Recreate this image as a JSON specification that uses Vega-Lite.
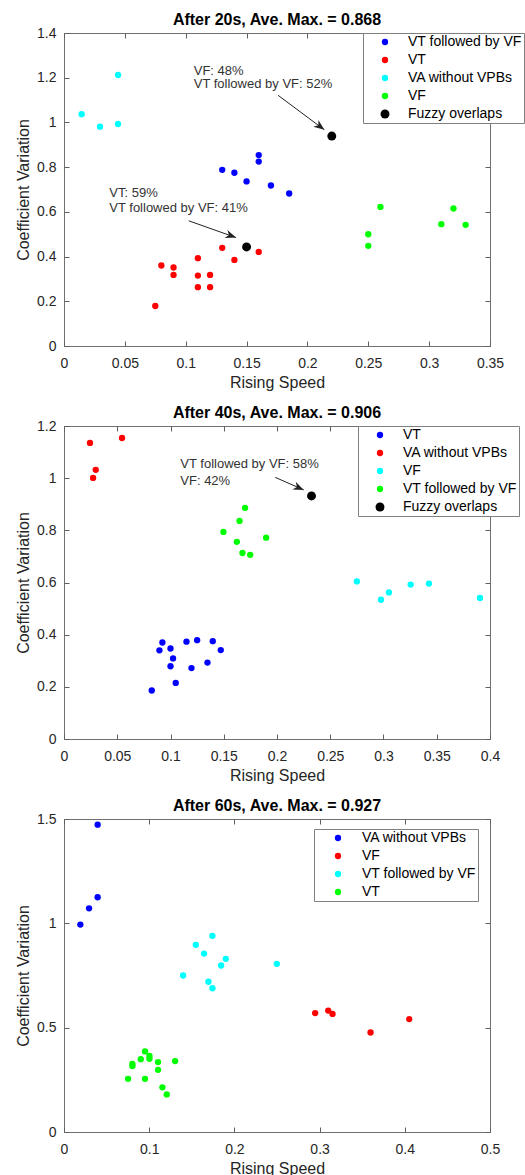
{
  "$schema": "https://vega.github.io/schema/vega-lite/v6.json",
  "padding": {"left": 15, "top": 11, "right": 0, "bottom": 0},
  "spacing": 13,
  "background": "white",
  "datasets": {
    "p1pts": [
      {"x": 0.0145, "y": 1.037, "class": "VA without VPBs"},
      {"x": 0.0296, "y": 0.981, "class": "VA without VPBs"},
      {"x": 0.0444, "y": 0.993, "class": "VA without VPBs"},
      {"x": 0.0444, "y": 1.212, "class": "VA without VPBs"},
      {"x": 0.13, "y": 0.788, "class": "VT followed by VF"},
      {"x": 0.14, "y": 0.775, "class": "VT followed by VF"},
      {"x": 0.15, "y": 0.736, "class": "VT followed by VF"},
      {"x": 0.16, "y": 0.854, "class": "VT followed by VF"},
      {"x": 0.16, "y": 0.825, "class": "VT followed by VF"},
      {"x": 0.17, "y": 0.718, "class": "VT followed by VF"},
      {"x": 0.185, "y": 0.682, "class": "VT followed by VF"},
      {"x": 0.075, "y": 0.179, "class": "VT"},
      {"x": 0.08, "y": 0.36, "class": "VT"},
      {"x": 0.09, "y": 0.351, "class": "VT"},
      {"x": 0.09, "y": 0.318, "class": "VT"},
      {"x": 0.11, "y": 0.393, "class": "VT"},
      {"x": 0.11, "y": 0.315, "class": "VT"},
      {"x": 0.11, "y": 0.263, "class": "VT"},
      {"x": 0.12, "y": 0.318, "class": "VT"},
      {"x": 0.12, "y": 0.263, "class": "VT"},
      {"x": 0.13, "y": 0.439, "class": "VT"},
      {"x": 0.14, "y": 0.385, "class": "VT"},
      {"x": 0.16, "y": 0.421, "class": "VT"},
      {"x": 0.25, "y": 0.5, "class": "VF"},
      {"x": 0.25, "y": 0.448, "class": "VF"},
      {"x": 0.26, "y": 0.622, "class": "VF"},
      {"x": 0.31, "y": 0.545, "class": "VF"},
      {"x": 0.32, "y": 0.615, "class": "VF"},
      {"x": 0.33, "y": 0.542, "class": "VF"},
      {"x": 0.22, "y": 0.939, "class": "Fuzzy overlaps"},
      {"x": 0.15, "y": 0.443, "class": "Fuzzy overlaps"}
    ],
    "p1ann": [
      {"x": 0.1066, "y": 1.232, "text": "VF: 48%"},
      {"x": 0.1066, "y": 1.172, "text": "VT followed by VF: 52%"},
      {"x": 0.0372, "y": 0.683, "text": "VT: 59%"},
      {"x": 0.0372, "y": 0.616, "text": "VT followed by VF: 41%"}
    ],
    "p1arr": [
      {"id": "a", "x": 0.176, "y": 1.121, "x2": 0.2139, "y2": 0.967},
      {"id": "b", "x": 0.1025, "y": 0.56, "x2": 0.1413, "y2": 0.485}
    ],
    "p2pts": [
      {"x": 0.0244, "y": 1.135, "class": "VA without VPBs"},
      {"x": 0.0545, "y": 1.154, "class": "VA without VPBs"},
      {"x": 0.0298, "y": 1.032, "class": "VA without VPBs"},
      {"x": 0.0273, "y": 1.001, "class": "VA without VPBs"},
      {"x": 0.1497, "y": 0.794, "class": "VT followed by VF"},
      {"x": 0.17, "y": 0.886, "class": "VT followed by VF"},
      {"x": 0.1648, "y": 0.836, "class": "VT followed by VF"},
      {"x": 0.1623, "y": 0.756, "class": "VT followed by VF"},
      {"x": 0.1676, "y": 0.713, "class": "VT followed by VF"},
      {"x": 0.1748, "y": 0.706, "class": "VT followed by VF"},
      {"x": 0.1898, "y": 0.772, "class": "VT followed by VF"},
      {"x": 0.275, "y": 0.604, "class": "VF"},
      {"x": 0.2976, "y": 0.534, "class": "VF"},
      {"x": 0.3051, "y": 0.562, "class": "VF"},
      {"x": 0.3255, "y": 0.592, "class": "VF"},
      {"x": 0.3427, "y": 0.596, "class": "VF"},
      {"x": 0.3906, "y": 0.541, "class": "VF"},
      {"x": 0.0824, "y": 0.186, "class": "VT"},
      {"x": 0.0896, "y": 0.34, "class": "VT"},
      {"x": 0.0924, "y": 0.37, "class": "VT"},
      {"x": 0.1, "y": 0.347, "class": "VT"},
      {"x": 0.1024, "y": 0.309, "class": "VT"},
      {"x": 0.1, "y": 0.279, "class": "VT"},
      {"x": 0.1049, "y": 0.215, "class": "VT"},
      {"x": 0.115, "y": 0.373, "class": "VT"},
      {"x": 0.1197, "y": 0.272, "class": "VT"},
      {"x": 0.125, "y": 0.379, "class": "VT"},
      {"x": 0.1347, "y": 0.293, "class": "VT"},
      {"x": 0.1397, "y": 0.375, "class": "VT"},
      {"x": 0.1472, "y": 0.341, "class": "VT"},
      {"x": 0.2324, "y": 0.932, "class": "Fuzzy overlaps"}
    ],
    "p2ann": [
      {"x": 0.1092, "y": 1.053, "text": "VT followed by VF: 58%"},
      {"x": 0.1092, "y": 0.989, "text": "VF: 42%"}
    ],
    "p2arr": [
      {"id": "a", "x": 0.1984, "y": 1.003, "x2": 0.2251, "y2": 0.955}
    ],
    "p3pts": [
      {"x": 0.0395, "y": 1.473, "class": "VA without VPBs"},
      {"x": 0.0395, "y": 1.125, "class": "VA without VPBs"},
      {"x": 0.0294, "y": 1.072, "class": "VA without VPBs"},
      {"x": 0.0192, "y": 0.994, "class": "VA without VPBs"},
      {"x": 0.1742, "y": 0.94, "class": "VT followed by VF"},
      {"x": 0.1547, "y": 0.897, "class": "VT followed by VF"},
      {"x": 0.1644, "y": 0.855, "class": "VT followed by VF"},
      {"x": 0.1899, "y": 0.83, "class": "VT followed by VF"},
      {"x": 0.1844, "y": 0.798, "class": "VT followed by VF"},
      {"x": 0.1398, "y": 0.75, "class": "VT followed by VF"},
      {"x": 0.1695, "y": 0.72, "class": "VT followed by VF"},
      {"x": 0.1742, "y": 0.689, "class": "VT followed by VF"},
      {"x": 0.2498, "y": 0.806, "class": "VT followed by VF"},
      {"x": 0.2948, "y": 0.57, "class": "VF"},
      {"x": 0.3101, "y": 0.582, "class": "VF"},
      {"x": 0.3152, "y": 0.566, "class": "VF"},
      {"x": 0.3598, "y": 0.477, "class": "VF"},
      {"x": 0.4052, "y": 0.541, "class": "VF"},
      {"x": 0.0951, "y": 0.386, "class": "VT"},
      {"x": 0.1003, "y": 0.365, "class": "VT"},
      {"x": 0.1003, "y": 0.351, "class": "VT"},
      {"x": 0.0901, "y": 0.349, "class": "VT"},
      {"x": 0.0803, "y": 0.326, "class": "VT"},
      {"x": 0.0803, "y": 0.316, "class": "VT"},
      {"x": 0.1104, "y": 0.335, "class": "VT"},
      {"x": 0.1104, "y": 0.298, "class": "VT"},
      {"x": 0.1304, "y": 0.34, "class": "VT"},
      {"x": 0.0752, "y": 0.255, "class": "VT"},
      {"x": 0.0951, "y": 0.255, "class": "VT"},
      {"x": 0.1155, "y": 0.214, "class": "VT"},
      {"x": 0.1206, "y": 0.18, "class": "VT"}
    ]
  },
  "vconcat": [
    {
      "width": 426,
      "height": 313,
      "title": {"text": "After 20s, Ave. Max. = 0.868"},
      "resolve": {"axis": {"x": "independent", "y": "independent"}},
      "layer": [
        {
          "data": {"name": "p1pts"},
          "mark": {"type": "circle", "opacity": 1},
          "encoding": {
            "x": {"field": "x", "type": "quantitative", "scale": {"domain": [0, 0.35], "nice": false, "zero": false},
              "axis": {"values": [0, 0.05, 0.1, 0.15, 0.2, 0.25, 0.3, 0.35], "title": "Rising Speed"}},
            "y": {"field": "y", "type": "quantitative", "scale": {"domain": [0, 1.4], "nice": false, "zero": false},
              "axis": {"values": [0, 0.2, 0.4, 0.6, 0.8, 1, 1.2, 1.4], "title": "Coefficient Variation"}},
            "color": {"field": "class", "type": "nominal",
              "scale": {"domain": ["VT followed by VF", "VT", "VA without VPBs", "VF", "Fuzzy overlaps"], "range": ["#0000ff", "#ff0000", "#00ffff", "#00ff00", "#000000"]},
              "legend": {"title": null, "orient": "none", "legendX": 299, "legendY": 0, "symbolOffset": 13, "labelOffset": 16}},
            "size": {"field": "class", "type": "nominal",
              "scale": {"type": "ordinal", "domain": ["VT followed by VF", "VT", "VA without VPBs", "VF", "Fuzzy overlaps"], "range": [40, 40, 40, 40, 80]},
              "legend": {"title": null, "orient": "none", "legendX": 299, "legendY": 0, "symbolOffset": 13, "labelOffset": 16}}
          }
        },
        {
          "data": {"name": "p1ann"},
          "mark": {"type": "text", "align": "left", "baseline": "middle", "fontSize": 13, "color": "#333333"},
          "encoding": {
            "x": {"field": "x", "type": "quantitative", "scale": {"domain": [0, 0.35], "nice": false, "zero": false},
              "axis": {"orient": "top", "values": [0, 0.05, 0.1, 0.15, 0.2, 0.25, 0.3, 0.35], "title": null}},
            "y": {"field": "y", "type": "quantitative", "scale": {"domain": [0, 1.4], "nice": false, "zero": false},
              "axis": {"orient": "right", "values": [0, 0.2, 0.4, 0.6, 0.8, 1, 1.2, 1.4], "title": null}},
            "text": {"field": "text"}
          }
        },
        {
          "data": {"name": "p1arr"},
          "mark": {"type": "rule", "color": "#222222", "strokeWidth": 1},
          "encoding": {
            "x": {"field": "x", "type": "quantitative", "axis": null},
            "y": {"field": "y", "type": "quantitative", "axis": null},
            "x2": {"field": "x2"},
            "y2": {"field": "y2"}
          }
        },
        {
          "data": {"name": "p1arr"},
          "mark": {"type": "point", "shape": "M0,0L-1,-0.4L-0.7,0L-1,0.4Z", "filled": true, "color": "#222222", "opacity": 1, "size": 450},
          "encoding": {
            "x": {"field": "x2", "type": "quantitative", "axis": null},
            "y": {"field": "y2", "type": "quantitative", "axis": null},
            "angle": {"field": "id", "type": "ordinal", "scale": {"type": "ordinal", "domain": ["a", "b"], "range": [36.7, 19.4]}, "legend": null}
          }
        }
      ]
    },
    {
      "width": 426,
      "height": 313,
      "title": {"text": "After 40s, Ave. Max. = 0.906"},
      "resolve": {"axis": {"x": "independent", "y": "independent"}},
      "layer": [
        {
          "data": {"name": "p2pts"},
          "mark": {"type": "circle", "opacity": 1},
          "encoding": {
            "x": {"field": "x", "type": "quantitative", "scale": {"domain": [0, 0.4], "nice": false, "zero": false},
              "axis": {"values": [0, 0.05, 0.1, 0.15, 0.2, 0.25, 0.3, 0.35, 0.4], "title": "Rising Speed"}},
            "y": {"field": "y", "type": "quantitative", "scale": {"domain": [0, 1.2], "nice": false, "zero": false},
              "axis": {"values": [0, 0.2, 0.4, 0.6, 0.8, 1, 1.2], "title": "Coefficient Variation"}},
            "color": {"field": "class", "type": "nominal",
              "scale": {"domain": ["VT", "VA without VPBs", "VF", "VT followed by VF", "Fuzzy overlaps"], "range": ["#0000ff", "#ff0000", "#00ffff", "#00ff00", "#000000"]},
              "legend": {"title": null, "orient": "none", "legendX": 294, "legendY": 0, "symbolOffset": 13, "labelOffset": 16}},
            "size": {"field": "class", "type": "nominal",
              "scale": {"type": "ordinal", "domain": ["VT", "VA without VPBs", "VF", "VT followed by VF", "Fuzzy overlaps"], "range": [40, 40, 40, 40, 80]},
              "legend": {"title": null, "orient": "none", "legendX": 294, "legendY": 0, "symbolOffset": 13, "labelOffset": 16}}
          }
        },
        {
          "data": {"name": "p2ann"},
          "mark": {"type": "text", "align": "left", "baseline": "middle", "fontSize": 13, "color": "#333333"},
          "encoding": {
            "x": {"field": "x", "type": "quantitative", "scale": {"domain": [0, 0.4], "nice": false, "zero": false},
              "axis": {"orient": "top", "values": [0, 0.05, 0.1, 0.15, 0.2, 0.25, 0.3, 0.35, 0.4], "title": null}},
            "y": {"field": "y", "type": "quantitative", "scale": {"domain": [0, 1.2], "nice": false, "zero": false},
              "axis": {"orient": "right", "values": [0, 0.2, 0.4, 0.6, 0.8, 1, 1.2], "title": null}},
            "text": {"field": "text"}
          }
        },
        {
          "data": {"name": "p2arr"},
          "mark": {"type": "rule", "color": "#222222", "strokeWidth": 1},
          "encoding": {
            "x": {"field": "x", "type": "quantitative", "axis": null},
            "y": {"field": "y", "type": "quantitative", "axis": null},
            "x2": {"field": "x2"},
            "y2": {"field": "y2"}
          }
        },
        {
          "data": {"name": "p2arr"},
          "mark": {"type": "point", "shape": "M0,0L-1,-0.4L-0.7,0L-1,0.4Z", "filled": true, "color": "#222222", "opacity": 1, "size": 450, "angle": 23.9},
          "encoding": {
            "x": {"field": "x2", "type": "quantitative", "axis": null},
            "y": {"field": "y2", "type": "quantitative", "axis": null}
          }
        }
      ]
    },
    {
      "width": 426,
      "height": 313,
      "title": {"text": "After 60s, Ave. Max. = 0.927"},
      "resolve": {"axis": {"x": "independent", "y": "independent"}},
      "layer": [
        {
          "data": {"name": "p3pts"},
          "mark": {"type": "circle", "opacity": 1, "size": 40},
          "encoding": {
            "x": {"field": "x", "type": "quantitative", "scale": {"domain": [0, 0.5], "nice": false, "zero": false},
              "axis": {"values": [0, 0.1, 0.2, 0.3, 0.4, 0.5], "title": "Rising Speed"}},
            "y": {"field": "y", "type": "quantitative", "scale": {"domain": [0, 1.5], "nice": false, "zero": false},
              "axis": {"values": [0, 0.5, 1, 1.5], "title": "Coefficient Variation"}},
            "color": {"field": "class", "type": "nominal",
              "scale": {"domain": ["VA without VPBs", "VF", "VT followed by VF", "VT"], "range": ["#0000ff", "#ff0000", "#00ffff", "#00ff00"]},
              "legend": {"title": null, "orient": "none", "legendX": 250, "legendY": 10, "symbolOffset": 15, "labelOffset": 17, "symbolSize": 40}}
          }
        },
        {
          "data": {"name": "p3pts"},
          "mark": {"type": "circle", "opacity": 0},
          "encoding": {
            "x": {"field": "x", "type": "quantitative", "scale": {"domain": [0, 0.5], "nice": false, "zero": false},
              "axis": {"orient": "top", "values": [0, 0.1, 0.2, 0.3, 0.4, 0.5], "title": null}},
            "y": {"field": "y", "type": "quantitative", "scale": {"domain": [0, 1.5], "nice": false, "zero": false},
              "axis": {"orient": "right", "values": [0, 0.5, 1, 1.5], "title": null}}
          }
        }
      ]
    }
  ],
  "resolve": {
    "scale": {"color": "independent", "size": "independent", "angle": "independent", "x": "independent", "y": "independent"},
    "legend": {"color": "independent", "size": "independent"}
  },
  "config": {
    "font": "Liberation Sans",
    "view": {"stroke": "#707070", "strokeWidth": 1},
    "axis": {
      "grid": false, "domain": false, "tickColor": "#606060", "tickSize": 5, "offset": -5, "tickWidth": 1,
      "labelFont": "Liberation Sans", "labelFontSize": 14, "labelColor": "#262626",
      "titleFont": "Liberation Sans", "titleFontSize": 16, "titleFontWeight": "normal", "titleColor": "#262626",
      "format": "~g", "titlePadding": 5, "labelFlush": false, "labelOverlap": false
    },
    "axisX": {"labelPadding": 10, "titlePadding": 4},
    "axisY": {"labelPadding": 8, "titlePadding": 5},
    "axisTop": {"labels": false},
    "axisRight": {"labels": false},
    "title": {"font": "Liberation Sans", "fontSize": 16, "fontWeight": "bold", "color": "#000000", "frame": "group", "offset": -2},
    "legend": {
      "labelFont": "Liberation Sans", "labelFontSize": 14, "labelColor": "#000000",
      "strokeColor": "#808080", "fillColor": "#ffffff", "padding": 2, "rowPadding": 4,
      "symbolStrokeWidth": 0, "symbolType": "circle", "cornerRadius": 0
    }
  }
}
